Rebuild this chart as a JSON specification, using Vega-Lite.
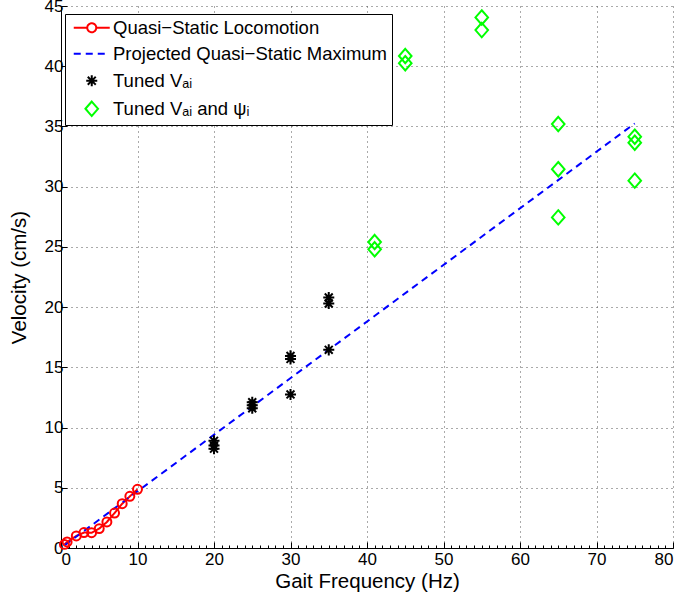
{
  "$schema": "https://vega.github.io/schema/vega-lite/v6.json",
  "width": 612,
  "height": 542,
  "autosize": "none",
  "padding": {"left": 61, "top": 6, "right": 12, "bottom": 49},
  "background": "white",
  "config": {
    "view": {"stroke": null},
    "font": "Liberation Sans",
    "axis": {
      "labelFont": "Liberation Sans",
      "labelFontSize": 17,
      "labelColor": "#000",
      "titleFont": "Liberation Sans",
      "titleFontSize": 20.5,
      "titleFontWeight": "normal",
      "titleColor": "#000",
      "domainColor": "#000",
      "domainWidth": 1,
      "tickColor": "#000",
      "tickWidth": 1,
      "tickSize": -6,
      "grid": true,
      "gridColor": "#555",
      "gridDash": [1, 4],
      "gridOpacity": 1
    },
    "legend": {
      "orient": "none",
      "legendX": 4,
      "legendY": 8,
      "title": null,
      "padding": 4.5,
      "strokeColor": "#000",
      "fillColor": "#fff",
      "cornerRadius": 0,
      "rowPadding": 7,
      "symbolSize": 144,
      "symbolOffset": 13,
      "labelOffset": 12,
      "labelFont": "Liberation Sans",
      "labelFontSize": 18.5,
      "labelColor": "#000",
      "labelLimit": 400,
      "symbolStrokeWidth": 2,
      "symbolFillColor": "transparent"
    }
  },
  "layer": [
    {
      "data": {"values": [
        {"series": "Quasi−Static Locomotion", "f": 0.45, "v": 0.3},
        {"series": "Quasi−Static Locomotion", "f": 0.8, "v": 0.5},
        {"series": "Quasi−Static Locomotion", "f": 2, "v": 1.0},
        {"series": "Quasi−Static Locomotion", "f": 3, "v": 1.28},
        {"series": "Quasi−Static Locomotion", "f": 4, "v": 1.27},
        {"series": "Quasi−Static Locomotion", "f": 5, "v": 1.61},
        {"series": "Quasi−Static Locomotion", "f": 6, "v": 2.16},
        {"series": "Quasi−Static Locomotion", "f": 7, "v": 2.9},
        {"series": "Quasi−Static Locomotion", "f": 8, "v": 3.68},
        {"series": "Quasi−Static Locomotion", "f": 9, "v": 4.29},
        {"series": "Quasi−Static Locomotion", "f": 10, "v": 4.87},
        {"series": "Projected Quasi−Static Maximum", "f": 0.5, "v": 0.24},
        {"series": "Projected Quasi−Static Maximum", "f": 75, "v": 35.25}
      ]},
      "mark": {"type": "line", "strokeWidth": 2},
      "encoding": {
        "x": {"field": "f", "type": "quantitative", "scale": {"domain": [0, 80], "nice": false, "zero": false},
              "axis": {"title": "Gait Frequency (Hz)", "values": [0,10,20,30,40,50,60,70,80], "labelPadding": 9, "titlePadding": 4}},
        "y": {"field": "v", "type": "quantitative", "scale": {"domain": [0, 45], "nice": false, "zero": false},
              "axis": {"title": "Velocity (cm/s)", "values": [0,5,10,15,20,25,30,35,40,45], "labelPadding": 4, "titlePadding": 15}},
        "color": {"field": "series", "type": "nominal",
          "scale": {"domain": ["Quasi−Static Locomotion", "Projected Quasi−Static Maximum", "Tuned Vₐᵢ", "Tuned Vₐᵢ and ψᵢ"],
                    "range": ["#ff0000", "#0000ff", "#000000", "#00ff00"]}},
        "strokeDash": {"field": "series", "type": "nominal",
          "scale": {"domain": ["Quasi−Static Locomotion", "Projected Quasi−Static Maximum", "Tuned Vₐᵢ", "Tuned Vₐᵢ and ψᵢ"],
                    "range": [[1, 0], [7, 5], [1, 0], [1, 0]]}},
        "order": {"field": "f", "type": "quantitative"}
      }
    },
    {
      "data": {"values": [
        {"f": 0.45, "v": 0.3}, {"f": 0.8, "v": 0.5}, {"f": 2, "v": 1.0}, {"f": 3, "v": 1.28},
        {"f": 4, "v": 1.27}, {"f": 5, "v": 1.61}, {"f": 6, "v": 2.16}, {"f": 7, "v": 2.9},
        {"f": 8, "v": 3.68}, {"f": 9, "v": 4.29}, {"f": 10, "v": 4.87}
      ]},
      "mark": {"type": "point", "shape": "circle", "filled": false, "size": 80, "strokeWidth": 2, "color": "#ff0000", "opacity": 1},
      "encoding": {
        "x": {"field": "f", "type": "quantitative", "axis": null},
        "y": {"field": "v", "type": "quantitative"}
      }
    },
    {
      "data": {"values": [
        {"series": "Tuned Vₐᵢ", "f": 20, "v": 8.9},
        {"series": "Tuned Vₐᵢ", "f": 20, "v": 8.5},
        {"series": "Tuned Vₐᵢ", "f": 20, "v": 8.25},
        {"series": "Tuned Vₐᵢ", "f": 25, "v": 12.1},
        {"series": "Tuned Vₐᵢ", "f": 25, "v": 11.85},
        {"series": "Tuned Vₐᵢ", "f": 25, "v": 11.6},
        {"series": "Tuned Vₐᵢ", "f": 30, "v": 15.95},
        {"series": "Tuned Vₐᵢ", "f": 30, "v": 15.7},
        {"series": "Tuned Vₐᵢ", "f": 30, "v": 12.75},
        {"series": "Tuned Vₐᵢ", "f": 35, "v": 20.8},
        {"series": "Tuned Vₐᵢ", "f": 35, "v": 20.3},
        {"series": "Tuned Vₐᵢ", "f": 35, "v": 16.45},
        {"series": "Tuned Vₐᵢ and ψᵢ", "f": 41, "v": 25.4},
        {"series": "Tuned Vₐᵢ and ψᵢ", "f": 41, "v": 24.8},
        {"series": "Tuned Vₐᵢ and ψᵢ", "f": 45, "v": 40.85},
        {"series": "Tuned Vₐᵢ and ψᵢ", "f": 45, "v": 40.25},
        {"series": "Tuned Vₐᵢ and ψᵢ", "f": 55, "v": 44.05},
        {"series": "Tuned Vₐᵢ and ψᵢ", "f": 55, "v": 43.0},
        {"series": "Tuned Vₐᵢ and ψᵢ", "f": 65, "v": 35.2},
        {"series": "Tuned Vₐᵢ and ψᵢ", "f": 65, "v": 31.45},
        {"series": "Tuned Vₐᵢ and ψᵢ", "f": 65, "v": 27.45},
        {"series": "Tuned Vₐᵢ and ψᵢ", "f": 75, "v": 34.15},
        {"series": "Tuned Vₐᵢ and ψᵢ", "f": 75, "v": 33.65},
        {"series": "Tuned Vₐᵢ and ψᵢ", "f": 75, "v": 30.5}
      ]},
      "mark": {"type": "point", "filled": false, "size": 144, "strokeWidth": 2, "opacity": 1},
      "encoding": {
        "x": {"field": "f", "type": "quantitative",
              "axis": {"orient": "bottom", "title": null, "labels": false, "domain": false, "grid": false, "tickSize": -3,
                       "values": [0,1,2,3,4,5,6,7,8,9,10,11,12,13,14,15,16,17,18,19,20,21,22,23,24,25,26,27,28,29,30,31,32,33,34,35,36,37,38,39,40,41,42,43,44,45,46,47,48,49,50,51,52,53,54,55,56,57,58,59,60,61,62,63,64,65,66,67,68,69,70,71,72,73,74,75,76,77,78,79,80]}},
        "y": {"field": "v", "type": "quantitative"},
        "color": {"field": "series", "type": "nominal",
          "scale": {"domain": ["Quasi−Static Locomotion", "Projected Quasi−Static Maximum", "Tuned Vₐᵢ", "Tuned Vₐᵢ and ψᵢ"],
                    "range": ["#ff0000", "#0000ff", "#000000", "#00ff00"]}},
        "shape": {"field": "series", "type": "nominal",
          "scale": {"domain": ["Quasi−Static Locomotion", "Projected Quasi−Static Maximum", "Tuned Vₐᵢ", "Tuned Vₐᵢ and ψᵢ"],
                    "range": [
                      "M-3,0H-0.75M0.75,0H3M0.75,0A0.75,0.75 0 1 1 -0.75,0A0.75,0.75 0 1 1 0.75,0",
                      "M-3,0H3",
                      "M-0.92,0H0.92M0,-0.92V0.92M-0.66,-0.66L0.66,0.66M-0.66,0.66L0.66,-0.66",
                      "M0,-1.2L1.05,0L0,1.2L-1.05,0Z"
                    ]}}
      }
    }
  ],
  "resolve": {"axis": {"x": "independent"}}
}
